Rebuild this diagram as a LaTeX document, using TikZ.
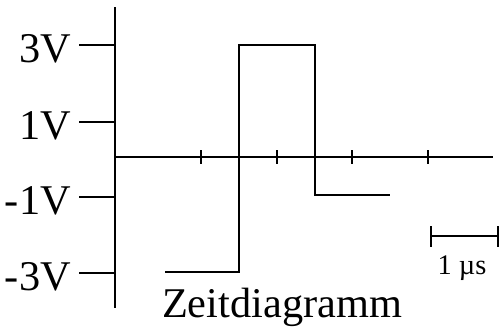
\documentclass[tikz,border=0pt]{standalone}
\usepackage{fontspec}
\setmainfont{Liberation Serif}
\begin{document}
\begin{tikzpicture}[x=1bp,y=-1bp,
  axis/.style={line width=1.3bp,black},
  sig/.style={line width=2.6bp,black},
  tickmark/.style={line width=2.3bp,black},
  big/.style={font=\fontsize{42.5}{42.5}\selectfont,inner sep=0pt},
  small/.style={font=\fontsize{28.5}{28.5}\selectfont,inner sep=0pt}]
\useasboundingbox (0,0) rectangle (499,327);
% axes
\coordinate (ytop) at (115,7);
\coordinate (ybot) at (115,308);
\coordinate (xl) at (115,157);
\coordinate (xr) at (493,157);
\draw[axis] (ytop) -- (ybot);
\draw[axis] (xl) -- (xr);
% y ticks and labels
\foreach \v/\y/\n in {3V/45/a,1V/122/b,-1V/197/c,-3V/273/d}{
  \coordinate (t\n) at (79,\y);
  \coordinate (u\n) at (115,\y);
  \draw[tickmark] (t\n) -- (u\n);
  \node[big,anchor=base east] (l\n) at (71,\y+17) {\v};
}
% x ticks
\foreach \x/\n in {201/a,277/b,352/c,428/d}{
  \coordinate (xa\n) at (\x,150);
  \coordinate (xb\n) at (\x,164);
  \draw[tickmark] (xa\n) -- (xb\n);
}
% signal
\coordinate (s0) at (165,272);
\coordinate (s1) at (239,272);
\coordinate (s2) at (239,45);
\coordinate (s3) at (315,45);
\coordinate (s4) at (315,195);
\coordinate (s5) at (390,195);
\draw[sig] (s0) -- (s1) -- (s2) -- (s3) -- (s4) -- (s5);
% scale bar
\coordinate (b0) at (431,236);
\coordinate (b1) at (498,236);
\draw[sig] (b0) -- (b1);
\draw[tickmark] (431,226) -- (431,247);
\draw[tickmark] (498,226) -- (498,247);
\node[small,anchor=base] (unit) at (462,274) {1 µs};
% title
\node[big,anchor=base] (title) at (282,317) {Zeitdiagramm};
\end{tikzpicture}
\end{document}
